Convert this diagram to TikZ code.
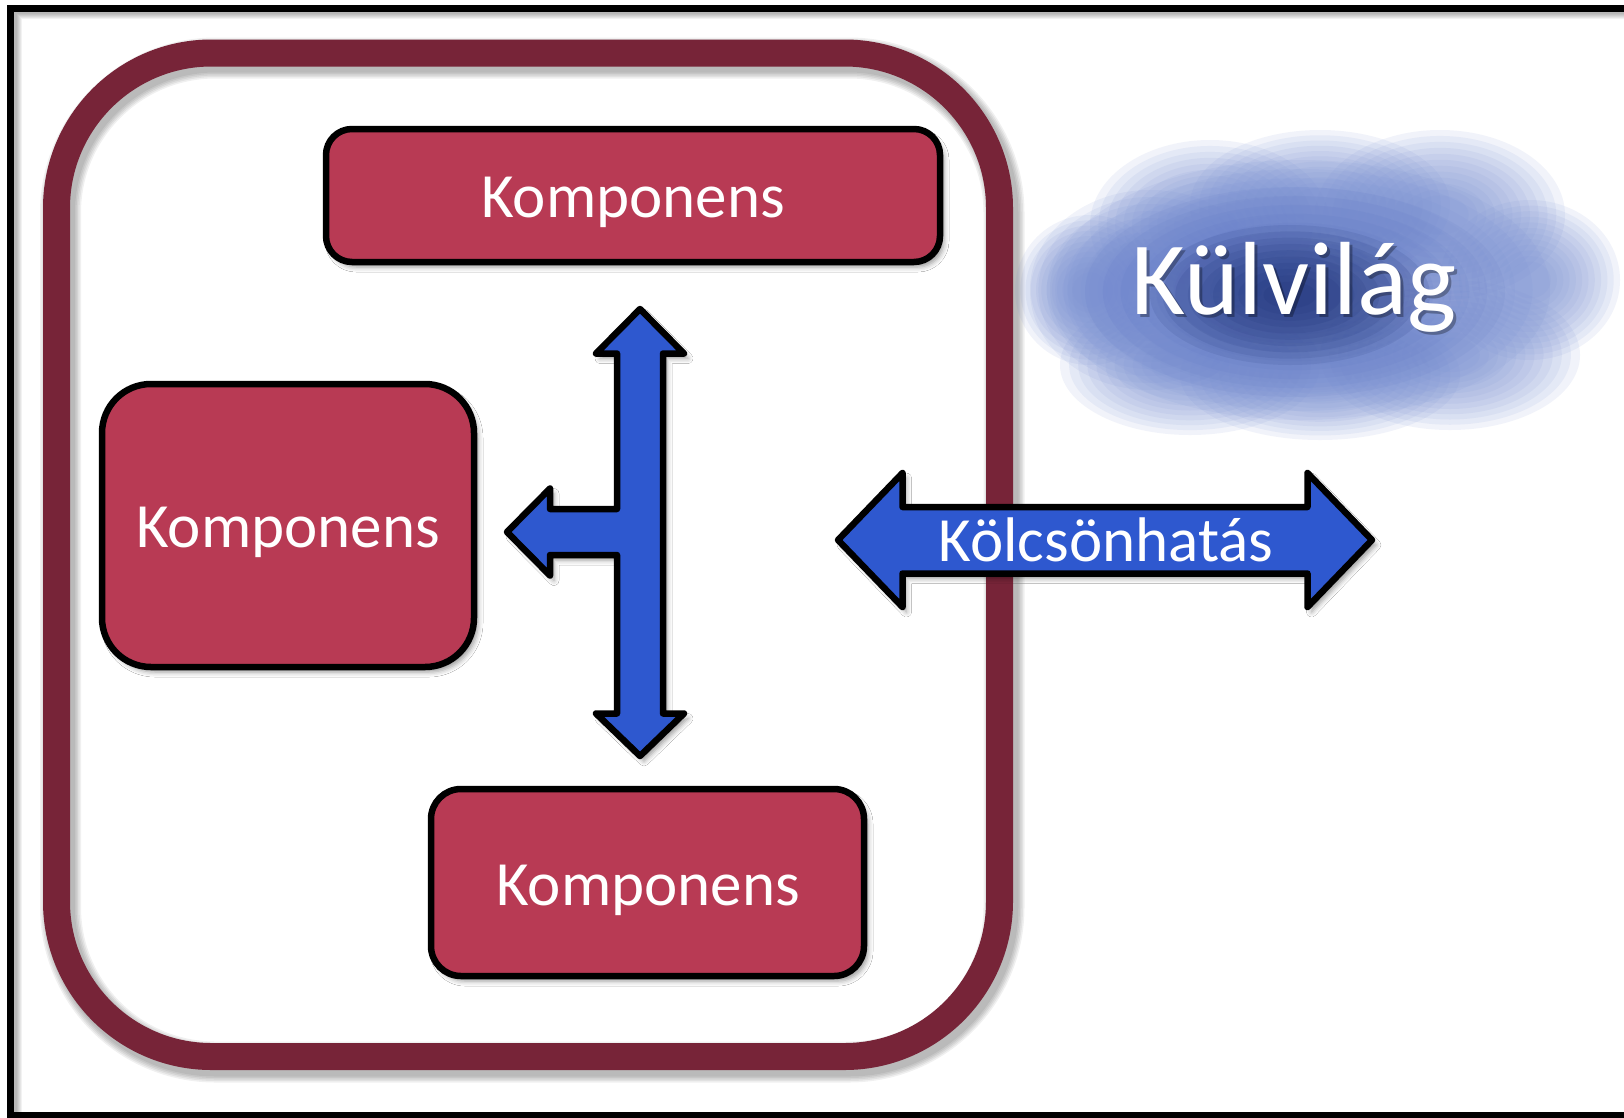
\documentclass[tikz,border=0pt]{standalone}
\usepackage{fontspec}
\setmainfont{Carlito}
\usetikzlibrary{shadows.blur}
\definecolor{ringred}{RGB}{119,36,56}
\definecolor{compred}{RGB}{184,58,84}
\definecolor{arrowblue}{RGB}{46,88,207}
\definecolor{cloudlight}{RGB}{122,145,212}
\definecolor{cloudmid}{RGB}{80,105,190}
\definecolor{clouddark}{RGB}{20,40,110}
\begin{document}
\begin{tikzpicture}[x=1pt,y=-1pt,
 comp/.style={draw=black, line width=6.5pt, fill=compred, inner sep=0pt, outer sep=0pt,
   blur shadow={shadow xshift=4pt, shadow yshift=-5pt, shadow blur radius=5pt, shadow opacity=40}},
 comptext/.style={text=white, font=\fontsize{63pt}{70pt}\selectfont, anchor=base, inner sep=0pt},
 blockarrow/.style={draw=black, line width=6.5pt, fill=arrowblue, line join=round,
   blur shadow={shadow xshift=4pt, shadow yshift=-5pt, shadow blur radius=5pt, shadow opacity=40}}]

\useasboundingbox (0,0) rectangle (1624,1117);
\fill[white] (0,0) rectangle (1624,1117);

% frame shadow and frame
\foreach \d in {1,...,8} \draw[black, opacity=0.05, line width=6pt] (1640,8+\d) -- (10.5+\d,8+\d) -- (10.5+\d,1130);
\draw[black, line width=7pt] (1640,8) -- (10.5,8) -- (10.5,1115) -- (1640,1115);

% system ring shadow and ring
\foreach \w in {29,32,35,38,41} \draw[black, opacity=0.06, line width=\w pt, rounded corners=155pt] (60.5,58) rectangle (1004,1062);
\node[draw=ringred, line width=27pt, rounded corners=155pt, minimum width=943pt, minimum height=1003.5pt, inner sep=0pt] (system) at (528,554.75) {};

% components
\node[comp, rounded corners=26pt, minimum width=614pt, minimum height=133pt] (compTop) at (633,195.5) {};
\node[comp, rounded corners=49pt, minimum width=372pt, minimum height=283pt] (compLeft) at (288,525.5) {};
\node[comp, rounded corners=30pt, minimum width=433pt, minimum height=187pt] (compBottom) at (647.5,882.5) {};
\node[comptext] (tTop) at (633,217.5) {Komponens};
\node[comptext] (tLeft) at (288,547) {Komponens};
\node[comptext] (tBottom) at (648,905) {Komponens};

% T-shaped internal arrow
\draw[blockarrow] (640,309) -- (684,353.5) -- (663,353.5) -- (663,713.5) -- (684,713.5) -- (640,756)
  -- (596,713.5) -- (617,713.5) -- (617,555) -- (550,555) -- (550,575.5) -- (507,532)
  -- (550,488.5) -- (550,509) -- (617,509) -- (617,353.5) -- (596,353.5) -- cycle;

% interaction arrow
\draw[blockarrow] (838,540) -- (902.5,473) -- (902.5,507) -- (1307.5,507) -- (1307.5,473) -- (1372,540)
  -- (1307.5,607) -- (1307.5,573.5) -- (902.5,573.5) -- (902.5,607) -- cycle;
\node[comptext] (tInter) at (1106,561) {Kölcsönhatás};

% soft cloud (stacked translucent ellipses)
\foreach \cx/\cy/\rx/\ry in {1300/290/250/130, 1150/290/120/100, 1090/290/75/75, 1210/225/120/85,
    1320/205/130/75, 1440/215/125/85, 1530/280/90/80, 1450/355/130/75, 1320/375/140/65, 1190/365/130/70}{
  \foreach \k in {0,...,11}{
    \fill[cloudlight, opacity=0.1] (\cx,\cy) ellipse [x radius={\rx*(1-0.07*\k)}, y radius={\ry*(1-0.07*\k)}];
  }
}
\foreach \k in {0,...,9}{
  \fill[cloudmid, opacity=0.08] (1295,292) ellipse [x radius={210*(1-0.085*\k)}, y radius={105*(1-0.085*\k)}];
}
\foreach \k in {0,...,9}{
  \fill[clouddark, opacity=0.1] (1290,295) ellipse [x radius={140*(1-0.09*\k)}, y radius={70*(1-0.09*\k)}];
}

\node[text=black, opacity=0.3, font=\fontsize{104pt}{110pt}\selectfont, anchor=base, inner sep=0pt] (kulShadow) at (1297,317) {Külvilág};
\node[text=white, font=\fontsize{104pt}{110pt}\selectfont, anchor=base, inner sep=0pt] (kul) at (1294,314) {Külvilág};
\end{tikzpicture}
\end{document}
